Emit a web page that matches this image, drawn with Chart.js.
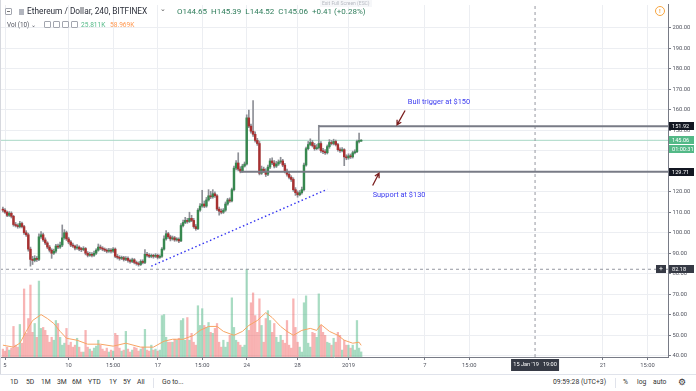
<!DOCTYPE html>
<html>
<head>
<meta charset="utf-8">
<script src="https://cdn.jsdelivr.net/npm/chart.js@4.4.1/dist/chart.umd.min.js"></script>
<style>
  body { margin: 0; background: #fff; font-family: Roboto, "Noto Sans", sans-serif; }
  #wrap { position: relative; width: 696px; height: 391px; overflow: hidden; background: #fff; }
  #chart { position: absolute; left: 0; top: 0; }
  .t { position: absolute; white-space: nowrap; line-height: 1; }
  .ico { position: absolute; box-sizing: border-box; border: 1px solid #a3a6af; border-radius: 1px; }
  #toolbar { position: absolute; left: 0; top: 374px; width: 696px; height: 17px; border-top: 1px solid #e0e3eb; background: #fff; }
  #toolbar .t { top: 4px; font-size: 6.8px; color: #333; }
  .sep { position: absolute; top: 3px; width: 1px; height: 10px; background: #e0e3eb; }
</style>
</head>
<body>
<div id="wrap">
  <canvas id="chart" width="696" height="375"></canvas>

  <div class="ico" style="left:5px;top:8px;width:7px;height:7px;"></div>
  <div style="position:absolute;left:7px;top:11px;width:3px;height:1px;background:#777;"></div>
  <div style="position:absolute;left:19px;top:9px;width:5px;height:6px;background:#b2b5be;"></div>
  <div class="t" style="left:27px;top:7px;font-size:8.3px;color:#2a2e39;">Ethereum / Dollar, 240, BITFINEX</div>
  <div class="t" style="left:160px;top:6px;font-size:7px;color:#555;">&#8964;</div>
  <div class="t" style="left:177px;top:7.5px;font-size:8px;color:#2f7d5b;">O144.65&nbsp; H145.39&nbsp; L144.52&nbsp; C145.06&nbsp; +0.41 (+0.28%)</div>
  <div class="t" style="left:7px;top:22px;font-size:6.4px;color:#50535e;">Vol (10) &#8964;</div>
  <div class="ico" style="left:44px;top:21px;width:7px;height:7px;"></div>
  <div class="ico" style="left:53px;top:21px;width:7px;height:7px;"></div>
  <div class="ico" style="left:62px;top:21px;width:7px;height:7px;"></div>
  <div class="ico" style="left:71px;top:21px;width:7px;height:7px;"></div>
  <div class="t" style="left:81px;top:22px;font-size:6.6px;color:#53b987;">25.811K</div>
  <div class="t" style="left:110px;top:22px;font-size:6.6px;color:#ff9850;">58.969K</div>
  <div class="t" style="left:320px;top:0px;font-size:5px;color:#b8bbc3;background:#f6f7f9;padding:1px 2px;">Exit Full Screen (ESC)</div>
  <div style="position:absolute;left:655px;top:6px;width:10px;height:10px;box-sizing:border-box;border:1px solid #f7a540;border-radius:50%;"></div>
  <div class="t" style="left:659px;top:8px;font-size:6px;color:#f7a540;font-weight:bold;">!</div>

  <div id="toolbar">
    <div class="t" style="left:10px;">1D</div>
    <div class="t" style="left:26px;">5D</div>
    <div class="t" style="left:41px;">1M</div>
    <div class="t" style="left:57px;">3M</div>
    <div class="t" style="left:72px;">6M</div>
    <div class="t" style="left:88px;">YTD</div>
    <div class="t" style="left:109px;">1Y</div>
    <div class="t" style="left:123px;">5Y</div>
    <div class="t" style="left:137px;">All</div>
    <div class="sep" style="left:153px;"></div>
    <div class="t" style="left:162px;">Go to...</div>
    <div class="t" style="left:553px;">09:59:28 (UTC+3)</div>
    <div class="sep" style="left:615px;"></div>
    <div class="t" style="left:623px;">%</div>
    <div class="t" style="left:637px;">log</div>
    <div class="t" style="left:653px;">auto</div>
    <div class="t" style="left:678px;top:3px;font-size:9px;">&#9881;</div>
  </div>
</div>

<script>
// 4h candles, first bar one slot before Dec 5 (bar index -1)
const firstBar = -1;

const opens = [
  111.5,111,110,108.5,109.5,108,104,103.5,103,104.5,
  103,100,99,92,87,86.5,87.5,87,98,99,
  96.5,95,93,91.5,90,91,93.5,93,94,97.5,
  100,97,95.5,94,93.5,92.5,93,92,91.8,92.3,
  90,89,89.5,89,90,91.5,93,92.5,92,91.5,
  91,91.5,91,92,88.5,88,87.5,87.8,87,87.5,
  86.5,86,86.8,85.5,85,84.5,86,85.5,89.5,89,
  88.5,88.8,88.5,89,88,88.5,92,97,99.5,98,
  97,97.5,96.5,96.8,96,103.5,105,106,105.5,107,
  106,103,102,111,113,114,113,116,118,117.5,
  119,118,111.5,110.5,110,111,114,116,115.5,121,
  131.5,134,131,130,132.5,133.5,156,152,149.5,148,
  145,143.5,129,131,130,128.5,132,135,134,132.5,
  133.5,134.5,135,133,130,128.5,127,126,121,119.5,
  118.5,119.5,121,133,141,143,144,142.5,141,141.5,
  143.5,140,139.5,139,142,144,143.5,144.5,143,140.5,
  140,140.5,137,136.5,137.5,137,139,139.5,144.5,144.65
];
const highs = [
  112.5,111.8,110.6,110.3,110.2,108.5,105,104.3,105.5,105.2,
  103.6,101,99.8,93,88.5,88.8,88.4,99.5,100.5,99.8,
  97.5,95.6,93.8,92.2,92,94.3,94.5,95.5,103.8,101.5,
  100.8,97.8,96.2,95,94,94.2,93.6,92.8,93.2,92.8,
  90.8,90.5,90.3,91,92.2,94.5,94,93.2,92.6,92.2,
  92.4,92.3,92.8,92.6,89.4,88.8,88.6,88.5,88.4,88.2,
  87.2,87.6,87.4,86.2,85.8,86.8,86.8,91.8,90.5,89.8,
  89.6,89.5,89.8,89.6,89.2,92.8,98.5,101,100.2,98.8,
  98.4,98.2,97.6,97.5,104.5,106.2,107.5,107,110,108.5,
  107,104,111.8,114.2,120.7,115.5,117.2,121,120.2,121,
  120,118.6,112.5,111.6,111.8,115,116.8,117,121.8,132.5,
  135.2,139,132.2,133.4,134.5,157.5,159.8,153,164.4,149.2,
  146,144.5,132.5,132,131.2,133,136.2,136.5,135.2,134.8,
  135.5,136.8,135.8,133.8,131,129.5,127.8,126.8,122,120.4,
  120.6,122.2,134,141.8,144.5,145.8,145,143.6,143,152.4,
  144.4,141.2,140.6,142.8,145.4,145,145.6,145.2,143.6,141.4,
  141.5,141,138,138.5,138.4,139.8,140.4,145.2,148.6,145.39
];
const lows = [
  110.2,109.4,107.8,107.9,107.2,103.2,102.8,102.2,102.4,102.3,
  99.2,98.2,91,83.7,84.5,85.8,86,86.4,97.2,95.8,
  94.2,92.2,90.6,87.5,89.4,90.2,92.2,92.4,93.2,96.8,
  96.2,94.6,93.2,92.8,91.6,91.8,91.2,90.8,91.2,89.2,
  88.2,88.5,88.2,88.5,89.4,91,91.8,91.2,90.8,90.2,
  90.4,90.2,90.4,87.8,87.2,86.6,86.9,86.2,86.4,85.6,
  85.2,85.4,84.8,84.2,83.7,84,84.8,84.9,88.2,87.8,
  87.8,87.6,87.9,87.2,87.5,88,91.5,96.4,97.2,96,
  96.4,95.8,95.9,95.2,95.6,102.8,104.4,104.6,105,105.4,
  102.2,101.2,101.5,110.4,112.4,112.2,112.4,115.4,116.6,116.8,
  117.2,110.8,108.6,109.2,109.4,110.4,113.4,114.8,115,120.4,
  130.6,130.2,129.2,129.5,132,133,151.2,148.6,147,144.2,
  142.6,128.2,128.4,129.3,127.4,127.8,131.2,133.2,131.6,131.8,
  132.8,133.8,132.2,129.2,127.6,126.2,125,120.2,118.2,117.3,
  118,118.8,120.4,132.4,140.4,142.4,141.8,140.2,140.4,140.8,
  139.2,138.6,138.2,138.4,141.2,142.8,142.8,142.3,139.8,139.2,
  139.4,132.7,135.6,135.8,136.2,136.4,138.4,139,143.8,144.52
];
const closes = [
  111,110,108.5,109.5,108,104,103.5,103,104.5,103,
  100,99,92,87,86.5,87.5,87,98,99,96.5,
  95,93,91.5,90,91,93.5,93,94,97.5,100,
  97,95.5,94,93.5,92.5,93,92,91.8,92.3,90,
  89,89.5,89,90,91.5,93,92.5,92,91.5,91,
  91.5,91,92,88.5,88,87.5,87.8,87,87.5,86.5,
  86,86.8,85.5,85,84.5,86,85.5,89.5,89,88.5,
  88.8,88.5,89,88,88.5,92,97,99.5,98,97,
  97.5,96.5,96.8,96,103.5,105,106,105.5,107,106,
  103,102,111,113,114,113,116,118,117.5,119,
  118,111.5,110.5,110,111,114,116,115.5,121,131.5,
  134,131,130,132.5,133.5,156,152,149.5,148,145,
  143.5,129,131,130,128.5,132,135,134,132.5,133.5,
  134.5,135,133,130,128.5,127,126,121,119.5,118.5,
  119.5,121,133,141,143,144,142.5,141,141.5,143.5,
  140,139.5,139,142,144,143.5,144.5,143,140.5,140,
  140.5,137,136.5,137.5,137,139,139.5,144.5,144.65,145.06
];
// volume in thousands
const volumes = [
  40,30,50,35,45,155,60,50,165,70,
  345,120,195,365,125,170,100,385,145,150,
  135,110,75,100,85,185,170,100,60,70,
  145,60,75,50,60,95,50,25,25,135,
  50,40,30,45,55,85,60,40,30,45,
  25,35,30,120,110,45,30,35,130,40,
  25,35,50,45,30,40,50,140,35,30,
  60,35,40,30,35,210,215,100,75,75,
  75,90,85,95,185,195,85,200,85,120,
  75,60,260,160,245,160,150,175,125,120,
  145,170,75,50,85,50,75,110,300,150,
  85,75,60,50,60,445,135,275,325,210,
  125,295,160,75,195,235,185,125,170,100,
  75,110,85,70,185,60,45,295,150,75,
  50,25,275,310,70,50,125,120,100,320,
  160,125,110,75,70,60,95,75,125,110,
  35,85,60,60,45,60,35,185,45,25.811
];
// volume moving average, read at a few bars
const maBars = [-1,4,7,10,13,17,20,23,26,29,34,39,45,51,57,64,70,75,79,84,89,92,96,100,103,108,112,115,119,123,126,130,133,136,140,144,147,149,153,157,160,164,167,168];
const maVols = [60,50,70,130,185,215,195,170,130,95,85,65,65,55,70,50,50,80,90,90,110,135,155,155,130,110,130,160,185,225,200,155,130,110,135,145,135,165,130,110,85,70,75,58.969];

// x axis labels (bar index -> text)
const tickBars = [0, 30, 51, 72, 93, 114, 138, 162, 198, 219, 282, 303];
const tickTexts = ['5', '10', '15:00', '17', '15:00', '24', '28', '2019', '7', '15:00', '21', '15:00'];
const priceTicks = [40, 50, 60, 70, 80, 90, 100, 110, 120, 130, 140, 150, 160, 170, 180, 190, 200];

// drawn levels
const bullLevel = 151.92, supportLevel = 129.71, lastPrice = 145.06, crossPrice = 82.18;
const bullFrom = 148, supportFrom = 111;
const trendBars = [69, 152];
const trendPrices = [83.7, 121.2];
const crossBar = 250;

const xMin = -2.36, xMax = 312.7, yMin = 39.4, yMax = 211.06;
const UP = '#37884f', DOWN = '#a83030', WICK = '#8d8f96';

const bars = opens.map((_, i) => i + firstBar);
const isUp = opens.map((o, i) => closes[i] >= o);

const wickData = bars.map((b, i) => ({ x: b, y: [lows[i], highs[i]] }));
const bodyData = bars.map((b, i) => ({ x: b, y: [opens[i], closes[i]] }));
const volData = bars.map((b, i) => ({ x: b, y: volumes[i] }));
const maData = maBars.map((b, i) => ({ x: b, y: maVols[i] }));

function lineSet(points, color, width, dash, order) {
    return {
        type: 'line', data: points, borderColor: color, borderWidth: width,
        borderDash: dash || [], pointRadius: 0, fill: false, tension: 0, order: order,
        yAxisID: 'y'
    };
}

const overlay = {
    id: 'overlay',
    afterDraw(chart) {
        const { ctx, chartArea } = chart;
        const x = chart.scales.x, y = chart.scales.y;
        ctx.save();

        // left frame line
        ctx.strokeStyle = '#d6d8de';
        ctx.lineWidth = 1;
        ctx.beginPath();
        ctx.moveTo(0.5, 0);
        ctx.lineTo(0.5, 375);
        ctx.stroke();

        // notes
        ctx.font = '7.4px Roboto, sans-serif';
        ctx.fillStyle = '#3b3bf0';
        ctx.textBaseline = 'middle';
        ctx.textAlign = 'left';
        ctx.fillText('Bull trigger at $150', x.getPixelForValue(190), y.getPixelForValue(163.5));
        ctx.fillText('Support at $130', x.getPixelForValue(173.4), y.getPixelForValue(118.3));

        function arrow(b0, p0, b1, p1) {
            const x0 = x.getPixelForValue(b0), y0 = y.getPixelForValue(p0);
            const x1 = x.getPixelForValue(b1), y1 = y.getPixelForValue(p1);
            const a = Math.atan2(y1 - y0, x1 - x0);
            ctx.strokeStyle = '#7c1f1f';
            ctx.lineWidth = 1.3;
            ctx.beginPath();
            ctx.moveTo(x0, y0);
            ctx.lineTo(x1, y1);
            ctx.moveTo(x1 - 5 * Math.cos(a - 0.5), y1 - 5 * Math.sin(a - 0.5));
            ctx.lineTo(x1, y1);
            ctx.lineTo(x1 - 5 * Math.cos(a + 0.5), y1 - 5 * Math.sin(a + 0.5));
            ctx.stroke();
        }
        arrow(188.7, 159.6, 184.9, 152.6);
        arrow(173.4, 123.0, 176.4, 129.0);

        // price axis tags
        function tag(price, text, bg, dy) {
            const py = Math.round(y.getPixelForValue(price)) + (dy || 0);
            ctx.fillStyle = bg;
            ctx.fillRect(chartArea.right + 1, py - 4, 25, 8);
            ctx.fillStyle = '#fff';
            ctx.font = '5.6px Roboto, sans-serif';
            ctx.textAlign = 'left';
            ctx.fillText(text, chartArea.right + 4, py + 0.5);
        }
        tag(bullLevel, '151.92', '#131722');
        tag(lastPrice, '145.06', '#53b987');
        tag(lastPrice, '01:00:31', '#53b987', 9);
        tag(supportLevel, '129.71', '#131722');
        tag(crossPrice, '82.18', '#363a45');
        const cy = Math.round(y.getPixelForValue(crossPrice));
        ctx.fillStyle = '#363a45';
        ctx.fillRect(chartArea.right - 12, cy - 4, 10, 8);
        ctx.fillStyle = '#fff';
        ctx.textAlign = 'center';
        ctx.font = '7px Roboto, sans-serif';
        ctx.fillText('+', chartArea.right - 7, cy + 0.5);

        // time axis tag
        const cx = x.getPixelForValue(crossBar);
        ctx.fillStyle = '#363a45';
        ctx.fillRect(cx - 24, chartArea.bottom + 2, 48, 12);
        ctx.fillStyle = '#fff';
        ctx.font = '5.6px Roboto, sans-serif';
        ctx.fillText("15 Jan '19   19:00", cx, chartArea.bottom + 8);
        ctx.restore();
    }
};

new Chart(document.getElementById('chart'), {
    data: {
        datasets: [
            {
                type: 'bar', data: volData, yAxisID: 'vol', order: 10, grouped: false,
                barThickness: 1.6,
                backgroundColor: isUp.map(u => u ? 'rgba(83,185,135,0.5)' : 'rgba(240,95,95,0.47)')
            },
            Object.assign(lineSet(maData, '#f7a463', 1, [], 9), { yAxisID: 'vol' }),
            lineSet([{ x: xMin, y: lastPrice }, { x: xMax, y: lastPrice }], '#a8d8c6', 1, [], 8),
            lineSet([{ x: xMin, y: crossPrice }, { x: xMax, y: crossPrice }], '#9598a1', 1, [3, 3], 7),
            lineSet([{ x: crossBar, y: yMin }, { x: crossBar, y: yMax }], '#9598a1', 1, [3, 3], 7),
            {
                type: 'bar', data: wickData, yAxisID: 'y', order: 3, grouped: false,
                barThickness: 1, backgroundColor: WICK
            },
            {
                type: 'bar', data: bodyData, yAxisID: 'y', order: 2, grouped: false,
                barThickness: 1.8, minBarLength: 1,
                backgroundColor: isUp.map(u => u ? UP : DOWN)
            },
            lineSet(trendBars.map((b, i) => ({ x: b, y: trendPrices[i] })), '#3434f2', 1.4, [1.5, 2.5], 1),
            lineSet([{ x: bullFrom, y: bullLevel }, { x: xMax, y: bullLevel }], '#787b86', 2, [], 0),
            lineSet([{ x: supportFrom, y: supportLevel }, { x: xMax, y: supportLevel }], '#787b86', 2, [], 0)
        ]
    },
    options: {
        responsive: false,
        animation: false,
        layout: { padding: 0 },
        plugins: { legend: { display: false }, tooltip: { enabled: false } },
        scales: {
            x: {
                type: 'linear', min: xMin, max: xMax, offset: false,
                afterBuildTicks: s => { s.ticks = tickBars.map(v => ({ value: v })); },
                afterFit: s => { s.height = 18; },
                ticks: {
                    autoSkip: false, maxRotation: 0, padding: 2, color: '#50535e',
                    font: { size: 5.8, family: 'Roboto' },
                    callback: v => tickTexts[tickBars.indexOf(v)]
                },
                grid: { color: '#eceef2', tickLength: 3, tickColor: '#787b86', offset: false },
                border: { color: '#787b86' }
            },
            y: {
                type: 'linear', position: 'right', min: yMin, max: yMax,
                afterBuildTicks: s => { s.ticks = priceTicks.map(v => ({ value: v })); },
                afterFit: s => { s.width = 28; },
                ticks: {
                    padding: 1.5, color: '#50535e',
                    font: { size: 5.8, family: 'Roboto' },
                    callback: v => v.toFixed(2)
                },
                grid: { color: '#eceef2', tickLength: 3, tickColor: '#787b86' },
                border: { color: '#787b86' }
            },
            vol: { type: 'linear', display: false, min: 0, max: 1785 }
        }
    },
    plugins: [overlay]
});
</script>
</body>
</html>
